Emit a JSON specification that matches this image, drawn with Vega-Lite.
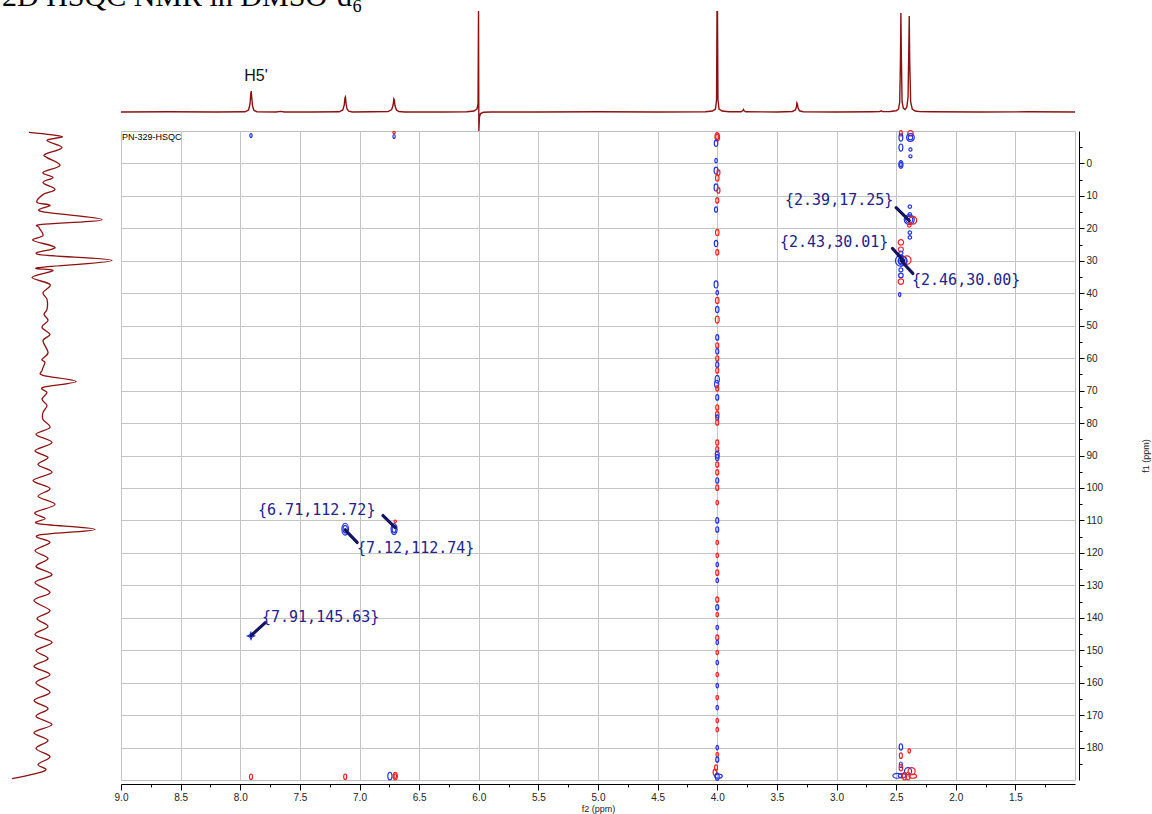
{
  "$schema": "https://vega.github.io/schema/vega-lite/v6.json",
  "padding": {"left": 2, "top": -18, "right": 0, "bottom": 0},
  "title": {"text": "2D HSQC NMR in DMSO-d₆", "anchor": "start", "font": "Liberation Serif", "fontSize": 30, "fontWeight": "normal", "color": "#000000", "offset": -25, "baseline": "alphabetic", "dx": -3},
  "config": {"view": {"stroke": null}, "font": "Liberation Sans"},
  "columns": 2,
  "spacing": {"row": 0, "column": 6},
  "bounds": "flush",
  "datasets": {
    "top1d": [
      {"ppm": 9.0, "intensity": 0}, {"ppm": 8.6, "intensity": 0.2}, {"ppm": 8.2, "intensity": 0}, {"ppm": 7.96, "intensity": 0.2},
      {"ppm": 7.93, "intensity": 2}, {"ppm": 7.918, "intensity": 8}, {"ppm": 7.912, "intensity": 18}, {"ppm": 7.908, "intensity": 21},
      {"ppm": 7.904, "intensity": 15}, {"ppm": 7.897, "intensity": 6}, {"ppm": 7.885, "intensity": 1.5}, {"ppm": 7.86, "intensity": 0.3},
      {"ppm": 7.7, "intensity": 0}, {"ppm": 7.66, "intensity": 0.6}, {"ppm": 7.63, "intensity": 0}, {"ppm": 7.4, "intensity": 0},
      {"ppm": 7.17, "intensity": 0.2}, {"ppm": 7.14, "intensity": 2}, {"ppm": 7.128, "intensity": 7}, {"ppm": 7.122, "intensity": 14},
      {"ppm": 7.118, "intensity": 15}, {"ppm": 7.113, "intensity": 9}, {"ppm": 7.105, "intensity": 3}, {"ppm": 7.09, "intensity": 0.8},
      {"ppm": 7.06, "intensity": 0}, {"ppm": 6.9, "intensity": 0.2}, {"ppm": 6.76, "intensity": 0.4}, {"ppm": 6.73, "intensity": 2.5},
      {"ppm": 6.718, "intensity": 7}, {"ppm": 6.712, "intensity": 13}, {"ppm": 6.708, "intensity": 12}, {"ppm": 6.702, "intensity": 6},
      {"ppm": 6.69, "intensity": 2}, {"ppm": 6.67, "intensity": 0.5}, {"ppm": 6.62, "intensity": 0}, {"ppm": 6.3, "intensity": 0},
      {"ppm": 6.1, "intensity": 0.2}, {"ppm": 6.04, "intensity": 1}, {"ppm": 6.015, "intensity": 3}, {"ppm": 6.006, "intensity": 8},
      {"ppm": 6.002, "intensity": 101}, {"ppm": 5.999, "intensity": -19}, {"ppm": 5.994, "intensity": -5}, {"ppm": 5.985, "intensity": -1.5},
      {"ppm": 5.96, "intensity": -0.3}, {"ppm": 5.9, "intensity": 0}, {"ppm": 5.5, "intensity": 0}, {"ppm": 5.0, "intensity": 0.2},
      {"ppm": 4.5, "intensity": 0}, {"ppm": 4.1, "intensity": 0.3}, {"ppm": 4.04, "intensity": 1}, {"ppm": 4.015, "intensity": 3},
      {"ppm": 4.006, "intensity": 12}, {"ppm": 4.002, "intensity": 101}, {"ppm": 3.998, "intensity": 101}, {"ppm": 3.994, "intensity": 12},
      {"ppm": 3.985, "intensity": 3}, {"ppm": 3.96, "intensity": 1}, {"ppm": 3.9, "intensity": 0.3}, {"ppm": 3.8, "intensity": 0.2},
      {"ppm": 3.785, "intensity": 1.5}, {"ppm": 3.78, "intensity": 2.5}, {"ppm": 3.775, "intensity": 1.2}, {"ppm": 3.76, "intensity": 0.2},
      {"ppm": 3.5, "intensity": 0}, {"ppm": 3.37, "intensity": 0.5}, {"ppm": 3.345, "intensity": 2}, {"ppm": 3.336, "intensity": 5},
      {"ppm": 3.332, "intensity": 9}, {"ppm": 3.328, "intensity": 8}, {"ppm": 3.322, "intensity": 4}, {"ppm": 3.31, "intensity": 1.2},
      {"ppm": 3.28, "intensity": 0.3}, {"ppm": 3.0, "intensity": 0}, {"ppm": 2.7, "intensity": 0.3}, {"ppm": 2.64, "intensity": 0.4},
      {"ppm": 2.625, "intensity": 1.2}, {"ppm": 2.615, "intensity": 0.4}, {"ppm": 2.55, "intensity": 0.5}, {"ppm": 2.5, "intensity": 1.2},
      {"ppm": 2.48, "intensity": 3}, {"ppm": 2.47, "intensity": 10}, {"ppm": 2.464, "intensity": 50}, {"ppm": 2.46, "intensity": 99},
      {"ppm": 2.456, "intensity": 55}, {"ppm": 2.45, "intensity": 10}, {"ppm": 2.44, "intensity": 4}, {"ppm": 2.425, "intensity": 2.5},
      {"ppm": 2.41, "intensity": 5}, {"ppm": 2.4, "intensity": 15}, {"ppm": 2.394, "intensity": 60}, {"ppm": 2.39, "intensity": 96},
      {"ppm": 2.386, "intensity": 50}, {"ppm": 2.378, "intensity": 10}, {"ppm": 2.365, "intensity": 3}, {"ppm": 2.34, "intensity": 1},
      {"ppm": 2.3, "intensity": 0.4}, {"ppm": 2.2, "intensity": 0.2}, {"ppm": 1.8, "intensity": 0}, {"ppm": 1.4, "intensity": 0.2},
      {"ppm": 1.0, "intensity": 0}
    ],
    "left1d": [
      {"ppm1": -9.6, "intensity": 24}, {"ppm1": -8.3, "intensity": 57}, {"ppm1": -7.1, "intensity": 42}, {"ppm1": -4.9, "intensity": 57},
      {"ppm1": -2.8, "intensity": 40}, {"ppm1": -1.8, "intensity": 42}, {"ppm1": 0.6, "intensity": 55}, {"ppm1": 2.8, "intensity": 38},
      {"ppm1": 4.3, "intensity": 48}, {"ppm1": 5.9, "intensity": 38}, {"ppm1": 8.0, "intensity": 50}, {"ppm1": 9.6, "intensity": 38},
      {"ppm1": 12.0, "intensity": 32}, {"ppm1": 12.9, "intensity": 45}, {"ppm1": 14.8, "intensity": 36}, {"ppm1": 17.3, "intensity": 97},
      {"ppm1": 18.8, "intensity": 37}, {"ppm1": 19.7, "intensity": 34}, {"ppm1": 22.2, "intensity": 38}, {"ppm1": 23.7, "intensity": 28},
      {"ppm1": 25.9, "intensity": 50}, {"ppm1": 28.0, "intensity": 33}, {"ppm1": 29.9, "intensity": 107}, {"ppm1": 32.1, "intensity": 33},
      {"ppm1": 33.0, "intensity": 48}, {"ppm1": 35.1, "intensity": 27}, {"ppm1": 37.3, "intensity": 45}, {"ppm1": 39.8, "intensity": 38},
      {"ppm1": 41.9, "intensity": 42}, {"ppm1": 45.0, "intensity": 42}, {"ppm1": 46.5, "intensity": 39}, {"ppm1": 48.4, "intensity": 43},
      {"ppm1": 50.5, "intensity": 37}, {"ppm1": 52.7, "intensity": 45}, {"ppm1": 54.6, "intensity": 38}, {"ppm1": 58.3, "intensity": 43},
      {"ppm1": 60.4, "intensity": 37}, {"ppm1": 61.3, "intensity": 40}, {"ppm1": 63.8, "intensity": 37}, {"ppm1": 65.3, "intensity": 38},
      {"ppm1": 67.2, "intensity": 71}, {"ppm1": 69.0, "intensity": 38}, {"ppm1": 70.6, "intensity": 42}, {"ppm1": 72.7, "intensity": 37},
      {"ppm1": 74.6, "intensity": 42}, {"ppm1": 76.7, "intensity": 38}, {"ppm1": 78.9, "intensity": 38}, {"ppm1": 81.4, "intensity": 45},
      {"ppm1": 83.5, "intensity": 31}, {"ppm1": 86.0, "intensity": 47}, {"ppm1": 88.5, "intensity": 30}, {"ppm1": 90.6, "intensity": 43},
      {"ppm1": 92.8, "intensity": 33}, {"ppm1": 95.2, "intensity": 47}, {"ppm1": 97.7, "intensity": 28}, {"ppm1": 100.2, "intensity": 45},
      {"ppm1": 102.6, "intensity": 33}, {"ppm1": 105.1, "intensity": 50}, {"ppm1": 107.6, "intensity": 30}, {"ppm1": 109.4, "intensity": 40},
      {"ppm1": 111.0, "intensity": 33}, {"ppm1": 112.8, "intensity": 90}, {"ppm1": 114.6, "intensity": 33}, {"ppm1": 116.8, "intensity": 45},
      {"ppm1": 119.3, "intensity": 30}, {"ppm1": 121.7, "intensity": 43}, {"ppm1": 124.2, "intensity": 31}, {"ppm1": 126.7, "intensity": 47},
      {"ppm1": 129.1, "intensity": 30}, {"ppm1": 132.2, "intensity": 45}, {"ppm1": 134.7, "intensity": 29}, {"ppm1": 137.8, "intensity": 45},
      {"ppm1": 140.2, "intensity": 32}, {"ppm1": 142.7, "intensity": 43}, {"ppm1": 145.2, "intensity": 30}, {"ppm1": 147.6, "intensity": 47},
      {"ppm1": 150.1, "intensity": 31}, {"ppm1": 152.6, "intensity": 43}, {"ppm1": 155.0, "intensity": 29}, {"ppm1": 157.5, "intensity": 45},
      {"ppm1": 160.0, "intensity": 31}, {"ppm1": 163.0, "intensity": 45}, {"ppm1": 165.5, "intensity": 29}, {"ppm1": 168.0, "intensity": 43},
      {"ppm1": 170.4, "intensity": 31}, {"ppm1": 172.9, "intensity": 47}, {"ppm1": 175.4, "intensity": 29}, {"ppm1": 177.8, "intensity": 43},
      {"ppm1": 180.3, "intensity": 31}, {"ppm1": 182.8, "intensity": 45}, {"ppm1": 185.2, "intensity": 33}, {"ppm1": 187.1, "intensity": 40},
      {"ppm1": 189.6, "intensity": 7}
    ],
    "peaks": [
      {"f2": 7.91, "f1": -8.6, "phase": "pos", "contour": "oval", "level": 0.8},
      {"f2": 6.71, "f1": -8.3, "phase": "pos", "contour": "oval", "level": 0.8},
      {"f2": 6.71, "f1": -9.5, "phase": "neg", "contour": "round", "level": 0.3},
      {"f2": 4.0, "f1": -8.2, "phase": "neg", "contour": "oval", "level": 3.5},
      {"f2": 4.0, "f1": -8.2, "phase": "neg", "contour": "oval", "level": 1.5},
      {"f2": 4.01, "f1": -6.2, "phase": "pos", "contour": "oval", "level": 2},
      {"f2": 4.01, "f1": -0.9, "phase": "pos", "contour": "oval", "level": 1},
      {"f2": 4.01, "f1": 2.2, "phase": "pos", "contour": "oval", "level": 2.5},
      {"f2": 3.99, "f1": 2.8, "phase": "neg", "contour": "oval", "level": 1.5},
      {"f2": 4.0, "f1": 4.5, "phase": "neg", "contour": "oval", "level": 2},
      {"f2": 4.01, "f1": 7.4, "phase": "pos", "contour": "oval", "level": 2.5},
      {"f2": 3.99, "f1": 8.3, "phase": "neg", "contour": "oval", "level": 1.5},
      {"f2": 4.0, "f1": 11.4, "phase": "neg", "contour": "oval", "level": 1.5},
      {"f2": 4.01, "f1": 14.2, "phase": "pos", "contour": "oval", "level": 1.5},
      {"f2": 4.0, "f1": 21.3, "phase": "neg", "contour": "oval", "level": 2},
      {"f2": 4.01, "f1": 24.7, "phase": "pos", "contour": "oval", "level": 2},
      {"f2": 4.0, "f1": 27.4, "phase": "neg", "contour": "oval", "level": 1.5},
      {"f2": 4.01, "f1": 37.3, "phase": "pos", "contour": "oval", "level": 2.5},
      {"f2": 4.0, "f1": 39.8, "phase": "pos", "contour": "oval", "level": 1},
      {"f2": 4.0, "f1": 42.2, "phase": "neg", "contour": "oval", "level": 2},
      {"f2": 4.0, "f1": 45.0, "phase": "pos", "contour": "oval", "level": 2},
      {"f2": 4.0, "f1": 48.1, "phase": "neg", "contour": "oval", "level": 2.5},
      {"f2": 4.0, "f1": 53.6, "phase": "pos", "contour": "oval", "level": 1.5},
      {"f2": 4.0, "f1": 56.1, "phase": "neg", "contour": "oval", "level": 1.5},
      {"f2": 4.0, "f1": 57.9, "phase": "pos", "contour": "oval", "level": 1.5},
      {"f2": 4.0, "f1": 60.1, "phase": "neg", "contour": "oval", "level": 1.5},
      {"f2": 4.0, "f1": 62.0, "phase": "pos", "contour": "oval", "level": 1.5},
      {"f2": 4.0, "f1": 63.8, "phase": "neg", "contour": "oval", "level": 1.5},
      {"f2": 4.0, "f1": 66.5, "phase": "pos", "contour": "oval", "level": 3},
      {"f2": 4.005, "f1": 68.0, "phase": "pos", "contour": "oval", "level": 3},
      {"f2": 4.0, "f1": 69.3, "phase": "neg", "contour": "oval", "level": 1.5},
      {"f2": 4.0, "f1": 72.1, "phase": "pos", "contour": "oval", "level": 1.5},
      {"f2": 4.0, "f1": 75.2, "phase": "neg", "contour": "oval", "level": 1.5},
      {"f2": 4.0, "f1": 77.4, "phase": "neg", "contour": "oval", "level": 2},
      {"f2": 4.0, "f1": 78.3, "phase": "pos", "contour": "oval", "level": 1.5},
      {"f2": 4.0, "f1": 79.8, "phase": "neg", "contour": "oval", "level": 1.5},
      {"f2": 4.0, "f1": 86.0, "phase": "neg", "contour": "oval", "level": 1.5},
      {"f2": 4.0, "f1": 88.1, "phase": "neg", "contour": "oval", "level": 1.5},
      {"f2": 4.0, "f1": 89.7, "phase": "pos", "contour": "oval", "level": 2.5},
      {"f2": 4.0, "f1": 90.6, "phase": "pos", "contour": "oval", "level": 2},
      {"f2": 4.0, "f1": 92.8, "phase": "neg", "contour": "oval", "level": 1.5},
      {"f2": 4.0, "f1": 95.2, "phase": "neg", "contour": "oval", "level": 1.5},
      {"f2": 4.0, "f1": 97.7, "phase": "pos", "contour": "oval", "level": 1.5},
      {"f2": 4.0, "f1": 99.9, "phase": "neg", "contour": "oval", "level": 1.5},
      {"f2": 4.0, "f1": 104.5, "phase": "neg", "contour": "oval", "level": 1},
      {"f2": 4.0, "f1": 110.0, "phase": "pos", "contour": "oval", "level": 1.5},
      {"f2": 4.0, "f1": 112.8, "phase": "pos", "contour": "oval", "level": 1.5},
      {"f2": 4.0, "f1": 116.8, "phase": "neg", "contour": "oval", "level": 1},
      {"f2": 4.0, "f1": 120.8, "phase": "neg", "contour": "oval", "level": 1},
      {"f2": 4.0, "f1": 123.6, "phase": "pos", "contour": "oval", "level": 1},
      {"f2": 4.0, "f1": 126.1, "phase": "neg", "contour": "oval", "level": 1.5},
      {"f2": 4.0, "f1": 128.5, "phase": "pos", "contour": "oval", "level": 1},
      {"f2": 4.0, "f1": 134.4, "phase": "neg", "contour": "oval", "level": 1.5},
      {"f2": 4.0, "f1": 136.8, "phase": "pos", "contour": "oval", "level": 1.5},
      {"f2": 4.0, "f1": 139.0, "phase": "neg", "contour": "oval", "level": 1},
      {"f2": 4.0, "f1": 143.0, "phase": "pos", "contour": "oval", "level": 1},
      {"f2": 4.0, "f1": 146.1, "phase": "neg", "contour": "oval", "level": 1.5},
      {"f2": 4.0, "f1": 147.6, "phase": "pos", "contour": "oval", "level": 1},
      {"f2": 4.0, "f1": 150.7, "phase": "neg", "contour": "oval", "level": 1},
      {"f2": 4.0, "f1": 153.8, "phase": "pos", "contour": "oval", "level": 1},
      {"f2": 4.0, "f1": 157.5, "phase": "neg", "contour": "oval", "level": 1},
      {"f2": 4.0, "f1": 160.9, "phase": "pos", "contour": "oval", "level": 1},
      {"f2": 4.0, "f1": 164.6, "phase": "neg", "contour": "oval", "level": 1},
      {"f2": 4.0, "f1": 167.7, "phase": "pos", "contour": "oval", "level": 1},
      {"f2": 4.0, "f1": 171.7, "phase": "neg", "contour": "oval", "level": 1},
      {"f2": 4.0, "f1": 174.5, "phase": "neg", "contour": "oval", "level": 1},
      {"f2": 4.0, "f1": 180.0, "phase": "pos", "contour": "oval", "level": 1},
      {"f2": 4.0, "f1": 182.2, "phase": "neg", "contour": "oval", "level": 1},
      {"f2": 4.0, "f1": 183.7, "phase": "pos", "contour": "oval", "level": 1.5},
      {"f2": 4.01, "f1": 186.2, "phase": "neg", "contour": "oval", "level": 1.5},
      {"f2": 4.02, "f1": 187.6, "phase": "neg", "contour": "oval", "level": 2},
      {"f2": 3.99, "f1": 188.8, "phase": "pos", "contour": "wide", "level": 3},
      {"f2": 4.0, "f1": 189.0, "phase": "pos", "contour": "oval", "level": 2.5},
      {"f2": 2.46, "f1": -9.3, "phase": "neg", "contour": "oval", "level": 1.5},
      {"f2": 2.46, "f1": -8.0, "phase": "pos", "contour": "oval", "level": 2.5},
      {"f2": 2.46, "f1": -4.9, "phase": "pos", "contour": "oval", "level": 2.5},
      {"f2": 2.46, "f1": 0.3, "phase": "pos", "contour": "oval", "level": 3},
      {"f2": 2.46, "f1": 0.3, "phase": "pos", "contour": "oval", "level": 1},
      {"f2": 2.38, "f1": -9.3, "phase": "neg", "contour": "round", "level": 1.5},
      {"f2": 2.38, "f1": -8.0, "phase": "pos", "contour": "round", "level": 3},
      {"f2": 2.38, "f1": -8.0, "phase": "pos", "contour": "round", "level": 1},
      {"f2": 2.38, "f1": -4.3, "phase": "pos", "contour": "round", "level": 0.5},
      {"f2": 2.38, "f1": -2.2, "phase": "pos", "contour": "round", "level": 0.5},
      {"f2": 2.385, "f1": 13.3, "phase": "pos", "contour": "round", "level": 0.6},
      {"f2": 2.385, "f1": 15.7, "phase": "pos", "contour": "round", "level": 0.6},
      {"f2": 2.39, "f1": 17.3, "phase": "pos", "contour": "round", "level": 5},
      {"f2": 2.39, "f1": 17.3, "phase": "pos", "contour": "round", "level": 2.5},
      {"f2": 2.36, "f1": 17.5, "phase": "neg", "contour": "round", "level": 3},
      {"f2": 2.39, "f1": 19.1, "phase": "neg", "contour": "round", "level": 0.6},
      {"f2": 2.385, "f1": 21.3, "phase": "pos", "contour": "round", "level": 0.6},
      {"f2": 2.385, "f1": 22.8, "phase": "pos", "contour": "round", "level": 0.6},
      {"f2": 2.46, "f1": 24.3, "phase": "neg", "contour": "round", "level": 1.5},
      {"f2": 2.46, "f1": 26.5, "phase": "neg", "contour": "round", "level": 1.2},
      {"f2": 2.46, "f1": 27.6, "phase": "pos", "contour": "round", "level": 0.8},
      {"f2": 2.46, "f1": 30.0, "phase": "pos", "contour": "round", "level": 6},
      {"f2": 2.445, "f1": 30.0, "phase": "pos", "contour": "round", "level": 4},
      {"f2": 2.455, "f1": 30.0, "phase": "pos", "contour": "round", "level": 2},
      {"f2": 2.41, "f1": 29.8, "phase": "neg", "contour": "round", "level": 3.5},
      {"f2": 2.46, "f1": 32.8, "phase": "pos", "contour": "round", "level": 0.8},
      {"f2": 2.46, "f1": 34.5, "phase": "pos", "contour": "round", "level": 1},
      {"f2": 2.46, "f1": 36.4, "phase": "neg", "contour": "round", "level": 1.5},
      {"f2": 2.47, "f1": 40.4, "phase": "pos", "contour": "oval", "level": 0.8},
      {"f2": 2.46, "f1": 179.8, "phase": "pos", "contour": "oval", "level": 2},
      {"f2": 2.39, "f1": 181.0, "phase": "neg", "contour": "oval", "level": 1},
      {"f2": 2.46, "f1": 182.5, "phase": "neg", "contour": "oval", "level": 1.5},
      {"f2": 2.46, "f1": 185.3, "phase": "pos", "contour": "oval", "level": 1.5},
      {"f2": 2.46, "f1": 186.2, "phase": "neg", "contour": "oval", "level": 2},
      {"f2": 2.40, "f1": 187.3, "phase": "pos", "contour": "round", "level": 2.5},
      {"f2": 2.37, "f1": 187.3, "phase": "neg", "contour": "round", "level": 2.5},
      {"f2": 2.49, "f1": 188.7, "phase": "pos", "contour": "wide", "level": 4},
      {"f2": 2.45, "f1": 188.7, "phase": "pos", "contour": "wide", "level": 3},
      {"f2": 2.43, "f1": 188.8, "phase": "neg", "contour": "oval", "level": 3},
      {"f2": 2.40, "f1": 188.8, "phase": "neg", "contour": "oval", "level": 3},
      {"f2": 2.36, "f1": 188.8, "phase": "neg", "contour": "wide", "level": 3},
      {"f2": 7.91, "f1": 189.0, "phase": "neg", "contour": "oval", "level": 1.5},
      {"f2": 7.12, "f1": 189.0, "phase": "neg", "contour": "oval", "level": 1.5},
      {"f2": 6.745, "f1": 188.8, "phase": "pos", "contour": "oval", "level": 3},
      {"f2": 6.70, "f1": 188.8, "phase": "neg", "contour": "oval", "level": 3},
      {"f2": 6.70, "f1": 188.8, "phase": "neg", "contour": "oval", "level": 1},
      {"f2": 7.91, "f1": 145.6, "phase": "pos", "contour": "star", "level": 2.5},
      {"f2": 7.12, "f1": 112.7, "phase": "pos", "contour": "oval", "level": 7},
      {"f2": 7.12, "f1": 112.7, "phase": "pos", "contour": "oval", "level": 3},
      {"f2": 6.71, "f1": 112.7, "phase": "pos", "contour": "oval", "level": 6},
      {"f2": 6.71, "f1": 112.7, "phase": "pos", "contour": "oval", "level": 2.5},
      {"f2": 6.70, "f1": 110.3, "phase": "neg", "contour": "round", "level": 0.3}
    ],
    "arrows": [
      {"f2": 6.803, "f1": 108.5, "f2end": 6.70, "f1end": 112.2},
      {"f2": 7.02, "f1": 116.8, "f2end": 7.12, "f1end": 112.9},
      {"f2": 7.79, "f1": 141.5, "f2end": 7.91, "f1end": 145.5},
      {"f2": 2.50, "f1": 13.6, "f2end": 2.39, "f1end": 17.6},
      {"f2": 2.53, "f1": 26.2, "f2end": 2.44, "f1end": 29.9},
      {"f2": 2.36, "f1": 33.9, "f2end": 2.46, "f1end": 29.9}
    ],
    "labels": [
      {"label": "{6.71,112.72}", "f2": 7.851, "f1": 106.9},
      {"label": "{7.12,112.74}", "f2": 7.021, "f1": 118.4},
      {"label": "{7.91,145.63}", "f2": 7.818, "f1": 139.9},
      {"label": "{2.39,17.25}", "f2": 3.432, "f1": 11.4},
      {"label": "{2.43,30.01}", "f2": 3.474, "f1": 24.3},
      {"label": "{2.46,30.00}", "f2": 2.367, "f1": 35.8}
    ]
  },
  "concat": [
    {"width": 110, "height": 120, "data": {"values": [{"t": ""}]}, "mark": {"type": "text"}, "encoding": {"text": {"field": "t"}}},
    {
      "width": 954, "height": 120,
      "layer": [
        {
          "data": {"name": "top1d"},
          "mark": {"type": "line", "color": "#8b1212", "strokeWidth": 1.4, "clip": true},
          "encoding": {
            "x": {"field": "ppm", "type": "quantitative", "scale": {"domain": [1, 9], "reverse": true, "nice": false, "zero": false}, "axis": null},
            "y": {"field": "intensity", "type": "quantitative", "scale": {"domain": [-19, 101], "nice": false, "zero": false}, "axis": null}
          }
        },
        {
          "data": {"values": [{"label": "H5'", "ppm": 7.91, "intensity": 31}]},
          "mark": {"type": "text", "fontSize": 16, "dx": 5, "align": "center", "baseline": "alphabetic", "color": "#111111"},
          "encoding": {
            "x": {"field": "ppm", "type": "quantitative"},
            "y": {"field": "intensity", "type": "quantitative"},
            "text": {"field": "label"}
          }
        }
      ]
    },
    {
      "width": 110, "height": 649,
      "data": {"name": "left1d"},
      "mark": {"type": "line", "color": "#8b1212", "strokeWidth": 1.3, "interpolate": "cardinal", "clip": true},
      "encoding": {
        "x": {"field": "intensity", "type": "quantitative", "scale": {"domain": [0, 110], "nice": false, "zero": false}, "axis": null},
        "y": {"field": "ppm1", "type": "quantitative", "scale": {"domain": [-10, 190], "reverse": true, "nice": false, "zero": false}, "axis": null},
        "order": {"field": "ppm1", "type": "quantitative"}
      }
    },
    {
      "width": 954, "height": 649,
      "view": {"stroke": "#bdbdbd", "strokeWidth": 1},
      "resolve": {"axis": {"x": "independent", "y": "independent"}},
      "layer": [
        {
          "data": {"name": "peaks"},
          "mark": {"type": "point", "filled": false, "strokeWidth": 1.2, "opacity": 1},
          "encoding": {
            "x": {
              "field": "f2", "type": "quantitative",
              "scale": {"domain": [1, 9], "reverse": true, "nice": false, "zero": false},
              "axis": {
                "orient": "bottom", "offset": 4,
                "values": [1.5, 2.0, 2.5, 3.0, 3.5, 4.0, 4.5, 5.0, 5.5, 6.0, 6.5, 7.0, 7.5, 8.0, 8.5, 9.0],
                "format": ".1f", "tickSize": 6,
                "grid": true, "gridColor": "#c4c4c4", "gridWidth": 1,
                "domainColor": "#000000", "tickColor": "#000000", "labelColor": "#222222", "labelFontSize": 10, "labelPadding": 2,
                "labelOverlap": false, "labelFlush": false,
                "title": "f2 (ppm)", "titleFontSize": 9, "titleFontWeight": "normal", "titleColor": "#222222", "titlePadding": 2
              }
            },
            "y": {
              "field": "f1", "type": "quantitative",
              "scale": {"domain": [-10, 190], "reverse": true, "nice": false, "zero": false},
              "axis": {
                "orient": "right", "offset": 4,
                "values": [0, 10, 20, 30, 40, 50, 60, 70, 80, 90, 100, 110, 120, 130, 140, 150, 160, 170, 180],
                "format": "d", "tickSize": 5,
                "grid": true, "gridColor": "#c4c4c4", "gridWidth": 1,
                "domainColor": "#000000", "tickColor": "#000000", "labelColor": "#222222", "labelFontSize": 10, "labelPadding": 2,
                "labelOverlap": false, "labelFlush": false,
                "title": "f1 (ppm)", "titleAngle": 270, "titleFontSize": 9, "titleFontWeight": "normal", "titleColor": "#222222", "titlePadding": 48
              }
            },
            "color": {"field": "phase", "type": "nominal", "scale": {"domain": ["pos", "neg"], "range": ["#2233e0", "#ee2222"]}, "legend": null},
            "shape": {"field": "contour", "type": "nominal", "scale": {"domain": ["oval", "round", "wide", "star"], "range": ["M-0.55,0A0.55,1 0 1,0 0.55,0A0.55,1 0 1,0 -0.55,0Z", "circle", "M-1,0A1,0.55 0 1,0 1,0A1,0.55 0 1,0 -1,0Z", "M0,-1L0.3,-0.3L1,0L0.3,0.3L0,1L-0.3,0.3L-1,0L-0.3,-0.3Z"]}, "legend": null},
            "size": {"field": "level", "type": "quantitative", "scale": {"domain": [0, 10], "range": [0, 200]}, "legend": null}
          }
        },
        {
          "data": {"name": "arrows"},
          "mark": {"type": "rule", "color": "#14145e", "strokeWidth": 3.2, "strokeCap": "round"},
          "encoding": {
            "x": {
              "field": "f2", "type": "quantitative",
              "axis": {
                "orient": "bottom", "offset": 4,
                "values": [1.25, 1.75, 2.25, 2.75, 3.25, 3.75, 4.25, 4.75, 5.25, 5.75, 6.25, 6.75, 7.25, 7.75, 8.25, 8.75],
                "labels": false, "domain": false, "grid": false, "tickSize": 3, "tickColor": "#000000", "title": null
              }
            },
            "y": {
              "field": "f1", "type": "quantitative",
              "axis": {
                "orient": "right", "offset": 4,
                "values": [-5, 5, 15, 25, 35, 45, 55, 65, 75, 85, 95, 105, 115, 125, 135, 145, 155, 165, 175, 185],
                "labels": false, "domain": false, "grid": false, "tickSize": 3, "tickColor": "#000000", "title": null
              }
            },
            "x2": {"field": "f2end"},
            "y2": {"field": "f1end"}
          }
        },
        {
          "data": {"name": "labels"},
          "mark": {"type": "text", "font": "DejaVu Sans Mono", "fontSize": 15, "align": "left", "baseline": "middle", "color": "#22228c"},
          "encoding": {
            "x": {"field": "f2", "type": "quantitative", "axis": null},
            "y": {"field": "f1", "type": "quantitative", "axis": null},
            "text": {"field": "label"}
          }
        },
        {
          "data": {"values": [{"label": "PN-329-HSQC", "f2": 9.0, "f1": -10}]},
          "mark": {"type": "text", "fontSize": 9, "align": "left", "baseline": "top", "dx": 1, "dy": 2, "color": "#000000"},
          "encoding": {
            "x": {"field": "f2", "type": "quantitative", "axis": null},
            "y": {"field": "f1", "type": "quantitative", "axis": null},
            "text": {"field": "label"}
          }
        }
      ]
    }
  ]
}
